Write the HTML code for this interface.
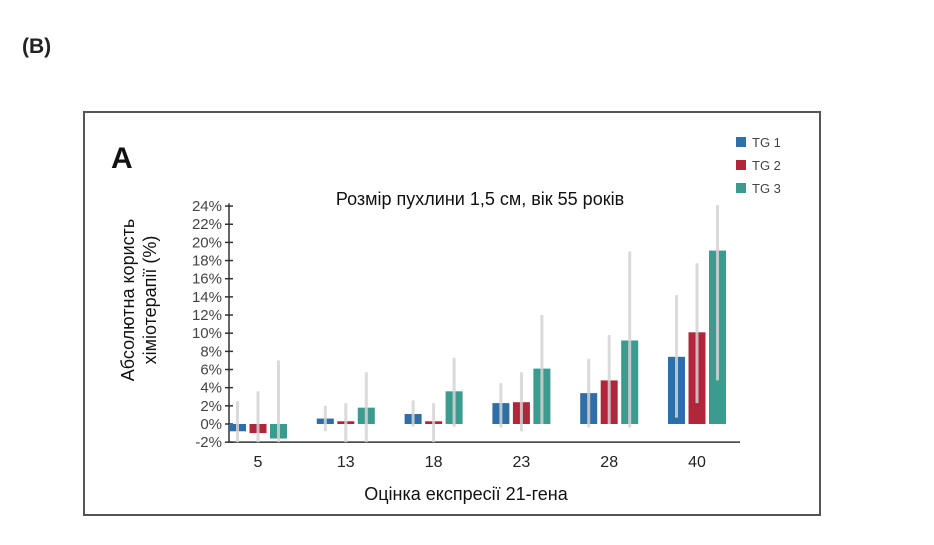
<!DOCTYPE html>
<html><head><meta charset="utf-8"><style>
body{margin:0;background:#fff;width:934px;height:540px;overflow:hidden;font-family:"Liberation Sans",sans-serif}
</style></head><body>
<svg width="934" height="540" viewBox="0 0 934 540">
<text x="22" y="53" font-size="21" font-weight="bold" fill="#222">(B)</text>
<rect x="84" y="112" width="736" height="403" fill="none" stroke="#555" stroke-width="2"/>
<text x="111" y="168" font-size="30" font-weight="bold" fill="#111">A</text>
<text x="480" y="205" font-size="18" text-anchor="middle" fill="#111">Розмір пухлини 1,5 см, вік 55 років</text>
<g id="legend"></g>
<g id="chart"></g>
<g transform="translate(142,300) rotate(-90)">
<text x="0" y="-8" font-size="18" text-anchor="middle" fill="#111">Абсолютна користь</text>
<text x="0" y="14" font-size="18" text-anchor="middle" fill="#111">хіміотерапії (%)</text>
</g>
<text x="466" y="500" font-size="18" text-anchor="middle" fill="#111">Оцінка експресії 21-гена</text>
</svg>
<script>
const categories=["5","13","18","23","28","40"];
const seriesNames=["TG 1","TG 2","TG 3"];
const tg1=[-0.8,0.6,1.1,2.3,3.4,7.4];
const tg2=[-1.0,0.3,0.3,2.4,4.8,10.1];
const tg3=[-1.6,1.8,3.6,6.1,9.2,19.1];
const tg1Hi=[2.5,2.0,2.6,4.5,7.2,14.2];
const tg2Hi=[3.6,2.3,2.3,5.7,9.8,17.7];
const tg3Hi=[7.0,5.7,7.3,12.0,19.0,24.1];
const tg1Lo=[-2,-0.8,-0.3,-0.4,-0.4,0.7];
const tg2Lo=[-2,-2,-2,-0.8,0,2.3];
const tg3Lo=[-2,-2,-0.3,0,-0.4,4.8];
const yTicks=[-2,0,2,4,6,8,10,12,14,16,18,20,22,24];
const colors=["#2f6fa7","#b0263a","#3b9b8f"];
const NS="http://www.w3.org/2000/svg";
const g=document.getElementById('chart');
const lg=document.getElementById('legend');
const y=v=>424-v*9.08;
const x=i=>258+i*87.8;
function mk(tag,attrs,parent){const e=document.createElementNS(NS,tag);for(const k in attrs)e.setAttribute(k,attrs[k]);parent.appendChild(e);return e;}
let ax=mk('line',{x1:229,x2:229,y1:y(24.3),y2:y(-2),stroke:'#333','stroke-width':1.5},g);


let bx=mk('line',{x1:229,x2:740,y1:y(-2),y2:y(-2),stroke:'#333','stroke-width':1.5},g);


yTicks.forEach(t=>{
  let l=mk('line',{x1:225,x2:233,y1:y(t),y2:y(t),stroke:'#333','stroke-width':1.5},g);
  
  
  let tx=mk('text',{x:222,y:y(t)+5,'font-size':15,'text-anchor':'end',fill:'#444'},g);
  
  
  tx.textContent=t+'%';
});
const vals=[tg1,tg2,tg3],his=[tg1Hi,tg2Hi,tg3Hi],los=[tg1Lo,tg2Lo,tg3Lo];
categories.forEach((c,i)=>{
  let tx=mk('text',{x:x(i),y:467,'font-size':16,'text-anchor':'middle',fill:'#222'},g);
  
  
  tx.textContent=c;
  for(let s=0;s<3;s++){
    const cx=x(i)+(s-1)*20.5, v=vals[s][i];
    let r=mk('rect',{x:cx-8.5,y:Math.min(y(0),y(v)),width:17,height:Math.max(2,Math.abs(y(v)-y(0))),fill:colors[s]},g);
    
    
    let e=mk('line',{x1:cx,x2:cx,y1:y(his[s][i]),y2:y(los[s][i]),stroke:'#d4d4d4','stroke-width':3,opacity:0.85},g);
    
    
  }
});
seriesNames.forEach((n,s)=>{
  let r=mk('rect',{x:736,y:137+s*23,width:10,height:10,fill:colors[s]},lg);
  
  
  let t=mk('text',{x:752,y:147+s*23,'font-size':13,fill:'#444'},lg);
  
  
  t.textContent=n;
});
</script>
</body></html>
